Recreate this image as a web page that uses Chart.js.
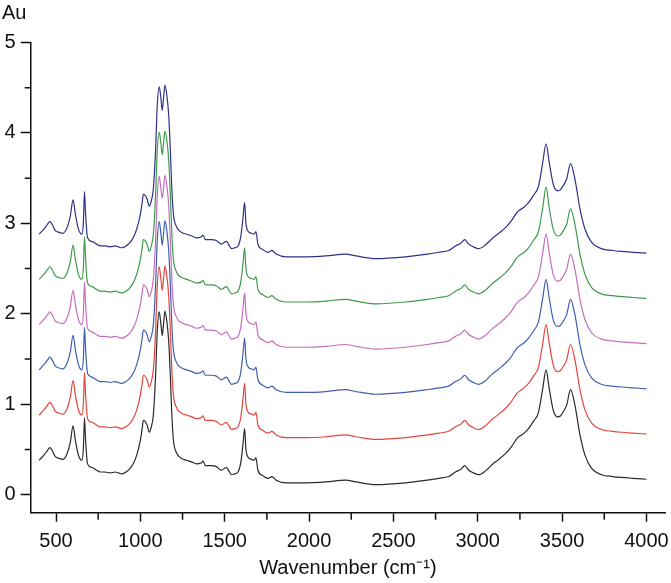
<!DOCTYPE html>
<html lang="en">
<head>
  <meta charset="UTF-8">
  <title>FTIR spectra</title>
  <style>
    body {
      margin: 0;
      background: #fff;
    }
    .chart-box {
      width: 671px;
      height: 583px;
    }
  </style>
</head>
<body>
  <div class="chart-box">
    <canvas id="spectraChart"></canvas>
  </div>

  <script src="https://cdn.jsdelivr.net/npm/chart.js"></script>
  <script>
    // Wavenumber positions (cm-1) shared by every spectrum
    const wavenumbers = [
      400, 430, 450, 463, 477, 496, 520, 540, 565, 585,
      601, 615, 634, 654, 662, 669, 675, 687, 713, 740,
      762, 790, 821, 851, 870, 890, 915, 939, 960, 979,
      1000, 1010, 1018, 1040, 1053, 1065, 1077, 1090, 1100, 1112,
      1122, 1130, 1138, 1146, 1158, 1168, 1178, 1185, 1195, 1215,
      1245, 1274, 1305, 1333, 1360, 1372, 1385, 1420, 1451, 1480,
      1510, 1525, 1540, 1560, 1579, 1595, 1608, 1618, 1626, 1640,
      1658, 1675, 1685, 1697, 1726, 1756, 1780, 1805, 1864, 1982,
      2100, 2218, 2277, 2395, 2573, 2700, 2769, 2828, 2868, 2900,
      2923, 2946, 2975, 3005, 3045, 3084, 3125, 3163, 3200, 3232,
      3251, 3275, 3301, 3330, 3360, 3385, 3405, 3424, 3448, 3473,
      3490, 3501, 3527, 3550, 3576, 3606, 3635, 3675, 3733, 3800,
      3851, 3920, 4000
    ];

    // Absorbance of each trace as shown (stacked in the plot)
    const absBlack = [
      0.38, 0.44, 0.49, 0.52, 0.49, 0.42, 0.40, 0.39, 0.45, 0.58,
      0.76, 0.60, 0.43, 0.38, 0.50, 0.85, 0.62, 0.34, 0.30, 0.27,
      0.25, 0.25, 0.24, 0.25, 0.24, 0.23, 0.25, 0.29, 0.35, 0.44,
      0.60, 0.72, 0.82, 0.77, 0.69, 0.75, 0.88, 1.30, 1.80, 2.02,
      1.88, 1.76, 1.90, 2.03, 1.90, 1.70, 1.30, 0.95, 0.62, 0.46,
      0.40, 0.38, 0.36, 0.34, 0.35, 0.37, 0.32, 0.32, 0.31, 0.27,
      0.30, 0.26, 0.22, 0.23, 0.25, 0.35, 0.55, 0.73, 0.50, 0.41,
      0.39, 0.38, 0.41, 0.27, 0.21, 0.18, 0.20, 0.16, 0.13, 0.13,
      0.14, 0.16, 0.14, 0.11, 0.13, 0.16, 0.18, 0.20, 0.25, 0.28,
      0.32, 0.27, 0.24, 0.22, 0.26, 0.33, 0.39, 0.45, 0.53, 0.62,
      0.65, 0.68, 0.73, 0.81, 0.91, 1.17, 1.38, 1.17, 0.93, 0.86,
      0.87, 0.90, 0.99, 1.16, 0.99, 0.66, 0.44, 0.29, 0.22, 0.20,
      0.19, 0.18, 0.17
    ];
    const absRed = [
      0.88, 0.94, 0.99, 1.02, 0.99, 0.92, 0.90, 0.89, 0.95, 1.08,
      1.26, 1.10, 0.93, 0.88, 1.00, 1.35, 1.12, 0.84, 0.80, 0.77,
      0.75, 0.75, 0.74, 0.75, 0.74, 0.73, 0.75, 0.79, 0.85, 0.94,
      1.10, 1.22, 1.32, 1.27, 1.19, 1.25, 1.38, 1.80, 2.30, 2.52,
      2.38, 2.26, 2.40, 2.53, 2.40, 2.20, 1.80, 1.45, 1.12, 0.96,
      0.90, 0.88, 0.86, 0.84, 0.85, 0.87, 0.82, 0.82, 0.81, 0.77,
      0.80, 0.76, 0.72, 0.73, 0.75, 0.85, 1.05, 1.23, 1.00, 0.91,
      0.89, 0.88, 0.91, 0.77, 0.71, 0.68, 0.70, 0.66, 0.63, 0.63,
      0.64, 0.66, 0.64, 0.61, 0.63, 0.66, 0.68, 0.70, 0.75, 0.78,
      0.82, 0.77, 0.74, 0.72, 0.76, 0.83, 0.89, 0.95, 1.03, 1.12,
      1.15, 1.18, 1.23, 1.31, 1.41, 1.67, 1.88, 1.67, 1.43, 1.36,
      1.37, 1.40, 1.49, 1.66, 1.49, 1.16, 0.94, 0.79, 0.72, 0.70,
      0.69, 0.68, 0.67
    ];
    const absBlue = [
      1.38, 1.44, 1.49, 1.52, 1.49, 1.42, 1.40, 1.39, 1.45, 1.58,
      1.76, 1.60, 1.43, 1.38, 1.50, 1.85, 1.62, 1.34, 1.30, 1.27,
      1.25, 1.25, 1.24, 1.25, 1.24, 1.23, 1.25, 1.29, 1.35, 1.44,
      1.60, 1.72, 1.82, 1.77, 1.69, 1.75, 1.88, 2.30, 2.80, 3.02,
      2.88, 2.76, 2.90, 3.03, 2.90, 2.70, 2.30, 1.95, 1.62, 1.46,
      1.40, 1.38, 1.36, 1.34, 1.35, 1.37, 1.32, 1.32, 1.31, 1.27,
      1.30, 1.26, 1.22, 1.23, 1.25, 1.35, 1.55, 1.73, 1.50, 1.41,
      1.39, 1.38, 1.41, 1.27, 1.21, 1.18, 1.20, 1.16, 1.13, 1.13,
      1.14, 1.16, 1.14, 1.11, 1.13, 1.16, 1.18, 1.20, 1.25, 1.28,
      1.32, 1.27, 1.24, 1.22, 1.26, 1.33, 1.39, 1.45, 1.53, 1.62,
      1.65, 1.68, 1.73, 1.81, 1.91, 2.17, 2.38, 2.17, 1.93, 1.86,
      1.87, 1.90, 1.99, 2.16, 1.99, 1.66, 1.44, 1.29, 1.22, 1.20,
      1.19, 1.18, 1.17
    ];
    const absPurple = [
      1.88, 1.94, 1.99, 2.02, 1.99, 1.92, 1.90, 1.89, 1.95, 2.08,
      2.26, 2.10, 1.93, 1.88, 2.00, 2.35, 2.12, 1.84, 1.80, 1.77,
      1.75, 1.75, 1.74, 1.75, 1.74, 1.73, 1.75, 1.79, 1.85, 1.94,
      2.10, 2.22, 2.32, 2.27, 2.19, 2.25, 2.38, 2.80, 3.30, 3.52,
      3.38, 3.28, 3.40, 3.53, 3.40, 3.20, 2.80, 2.45, 2.12, 1.96,
      1.90, 1.88, 1.86, 1.84, 1.85, 1.87, 1.82, 1.82, 1.81, 1.77,
      1.80, 1.76, 1.72, 1.73, 1.75, 1.85, 2.05, 2.23, 2.00, 1.91,
      1.89, 1.88, 1.91, 1.77, 1.71, 1.68, 1.70, 1.66, 1.63, 1.63,
      1.64, 1.66, 1.64, 1.61, 1.63, 1.66, 1.68, 1.70, 1.75, 1.78,
      1.82, 1.77, 1.74, 1.72, 1.76, 1.83, 1.89, 1.95, 2.03, 2.12,
      2.15, 2.18, 2.23, 2.31, 2.41, 2.67, 2.88, 2.67, 2.43, 2.36,
      2.37, 2.40, 2.49, 2.66, 2.49, 2.16, 1.94, 1.79, 1.72, 1.70,
      1.69, 1.68, 1.67
    ];
    const absGreen = [
      2.38, 2.44, 2.49, 2.52, 2.49, 2.42, 2.40, 2.39, 2.45, 2.58,
      2.76, 2.60, 2.43, 2.38, 2.50, 2.85, 2.62, 2.34, 2.30, 2.27,
      2.25, 2.25, 2.24, 2.25, 2.24, 2.23, 2.25, 2.29, 2.35, 2.44,
      2.60, 2.72, 2.82, 2.77, 2.69, 2.75, 2.88, 3.30, 3.80, 4.01,
      3.88, 3.76, 3.90, 4.02, 3.90, 3.70, 3.30, 2.95, 2.62, 2.46,
      2.40, 2.38, 2.36, 2.34, 2.35, 2.37, 2.32, 2.32, 2.31, 2.27,
      2.30, 2.26, 2.22, 2.23, 2.25, 2.35, 2.55, 2.73, 2.50, 2.41,
      2.39, 2.38, 2.41, 2.27, 2.21, 2.18, 2.20, 2.16, 2.13, 2.13,
      2.14, 2.16, 2.14, 2.11, 2.13, 2.16, 2.18, 2.20, 2.25, 2.28,
      2.32, 2.27, 2.24, 2.22, 2.26, 2.33, 2.39, 2.45, 2.53, 2.62,
      2.65, 2.68, 2.73, 2.81, 2.91, 3.17, 3.40, 3.17, 2.93, 2.86,
      2.87, 2.90, 2.99, 3.16, 2.99, 2.66, 2.44, 2.29, 2.22, 2.20,
      2.19, 2.18, 2.17
    ];
    const absNavy = [
      2.88, 2.94, 2.99, 3.02, 2.99, 2.92, 2.90, 2.89, 2.95, 3.08,
      3.26, 3.10, 2.93, 2.88, 3.00, 3.35, 3.12, 2.84, 2.80, 2.77,
      2.75, 2.75, 2.74, 2.75, 2.74, 2.73, 2.75, 2.79, 2.85, 2.94,
      3.10, 3.22, 3.32, 3.27, 3.19, 3.25, 3.38, 3.80, 4.30, 4.51,
      4.38, 4.25, 4.40, 4.53, 4.40, 4.20, 3.80, 3.45, 3.12, 2.96,
      2.90, 2.88, 2.86, 2.84, 2.85, 2.87, 2.82, 2.82, 2.81, 2.77,
      2.80, 2.76, 2.72, 2.73, 2.75, 2.85, 3.05, 3.23, 3.00, 2.91,
      2.89, 2.88, 2.91, 2.77, 2.71, 2.68, 2.70, 2.66, 2.63, 2.63,
      2.64, 2.66, 2.64, 2.61, 2.63, 2.66, 2.68, 2.70, 2.75, 2.78,
      2.82, 2.77, 2.74, 2.72, 2.76, 2.83, 2.89, 2.95, 3.03, 3.12,
      3.15, 3.18, 3.23, 3.31, 3.41, 3.67, 3.88, 3.67, 3.43, 3.36,
      3.37, 3.40, 3.49, 3.66, 3.49, 3.16, 2.94, 2.79, 2.72, 2.70,
      2.69, 2.68, 2.67
    ];

    // Tick positions
    const xMajorTicks = [500, 1000, 1500, 2000, 2500, 3000, 3500, 4000];
    const xMinorTicks = [750, 1250, 1750, 2250, 2750, 3250, 3750];
    const yMajorTicks = [0, 1, 2, 3, 4, 5];
    const yMinorTicks = [0.5, 1.5, 2.5, 3.5, 4.5];

    const traces = [
      { values: absBlack, color: '#2a2a2a' },
      { values: absRed, color: '#e2453e' },
      { values: absBlue, color: '#3f5fae' },
      { values: absPurple, color: '#c46ebd' },
      { values: absGreen, color: '#3e9b4a' },
      { values: absNavy, color: '#2e3189' }
    ];

    // short minor ticks, Chart.js only draws one tick length per axis
    const minorTicks = {
      id: 'minorTicks',
      afterDraw(chart) {
        const { ctx, scales: { x, y } } = chart;
        ctx.save();
        ctx.strokeStyle = '#111';
        ctx.lineWidth = 1.5;
        ctx.beginPath();
        xMinorTicks.forEach(v => {
          const px = x.getPixelForValue(v);
          ctx.moveTo(px, x.top);
          ctx.lineTo(px, x.top + 7);
        });
        yMinorTicks.forEach(v => {
          const py = y.getPixelForValue(v);
          ctx.moveTo(y.right, py);
          ctx.lineTo(y.right - 6, py);
        });
        ctx.stroke();
        ctx.restore();
      }
    };

    Chart.defaults.font.family = '"Liberation Sans", Arial, sans-serif';
    Chart.defaults.font.size = 20;
    Chart.defaults.color = '#111';

    new Chart(document.getElementById('spectraChart'), {
      type: 'line',
      data: {
        datasets: traces.map(t => ({
          data: wavenumbers.map((w, i) => ({ x: w, y: t.values[i] })),
          borderColor: t.color,
          borderWidth: 1.2,
          pointRadius: 0,
          cubicInterpolationMode: 'monotone',
          fill: false
        }))
      },
      options: {
        responsive: true,
        maintainAspectRatio: false,
        animation: false,
        layout: { padding: { left: 2, right: 6, top: 0, bottom: 0 } },
        plugins: {
          legend: { display: false },
          tooltip: { enabled: false },
          title: {
            display: true,
            text: 'Au',
            align: 'start',
            font: { size: 20, weight: 'normal' },
            padding: { top: 1, bottom: 17.5 }
          }
        },
        scales: {
          x: {
            type: 'linear',
            min: 350,
            max: 4110,
            afterBuildTicks: s => { s.ticks = xMajorTicks.map(v => ({ value: v })); },
            afterFit: s => { s.height = 70.3; s.paddingLeft = 0; s.paddingRight = 0; },
            ticks: { padding: 8, maxRotation: 0, callback: v => String(v) },
            grid: { drawOnChartArea: false, tickLength: 9, tickWidth: 1.5, tickColor: '#111' },
            border: { color: '#111', width: 1.5 },
            title: {
              display: true,
              text: 'Wavenumber (cm\u207B\u00B9)',
              font: { size: 20 },
              padding: { top: 0, bottom: 3 }
            }
          },
          y: {
            min: -0.2,
            max: 5,
            afterBuildTicks: s => { s.ticks = yMajorTicks.map(v => ({ value: v })); },
            afterFit: s => { s.width = 28.7; s.paddingTop = 0; s.paddingBottom = 0; },
            ticks: { padding: 5, callback: v => String(v) },
            grid: { drawOnChartArea: false, tickLength: 10, tickWidth: 1.5, tickColor: '#111' },
            border: { color: '#111', width: 1.5 }
          }
        }
      },
      plugins: [minorTicks]
    });
  </script>
</body>
</html>
